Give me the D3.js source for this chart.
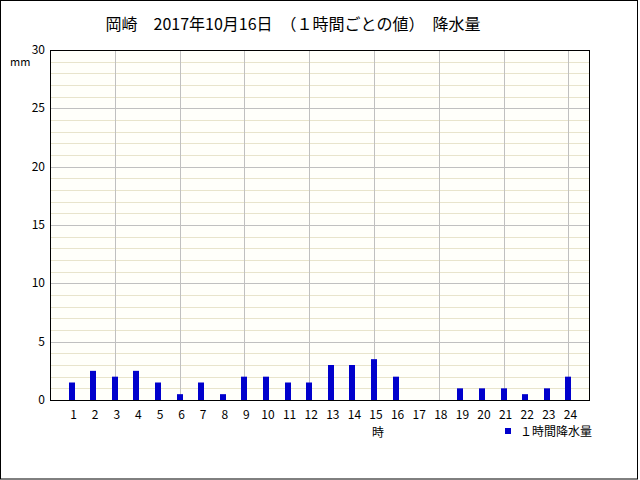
<!DOCTYPE html>
<html>
<head>
<meta charset="utf-8">
<script src="https://cdn.jsdelivr.net/npm/d3@7"></script>
<style>
body { margin: 0; background: #fff; }
svg text { font-family: "Noto Sans CJK JP", "DejaVu Sans", sans-serif; }
</style>
</head>
<body>
<svg id="chart" width="640" height="480"></svg>
<script>
var hours = [1, 2, 3, 4, 5, 6, 7, 8, 9, 10, 11, 12, 13, 14, 15, 16, 17, 18, 19, 20, 21, 22, 23, 24];
var rain = [1.5, 2.5, 2.0, 2.5, 1.5, 0.5, 1.5, 0.5, 2.0, 2.0, 1.5, 1.5, 3.0, 3.0, 3.5, 2.0, 0, 0, 1.0, 1.0, 1.0, 0.5, 1.0, 2.0];
var yTicks = [0, 5, 10, 15, 20, 25, 30];
var minorTicks = d3.range(0, 31, 1);
var vGrid = [3, 6, 9, 12, 15, 18, 21, 24];
var titleText = '岡崎　2017年10月16日　（１時間ごとの値）　降水量';
var legendText = '１時間降水量';

var svg = d3.select('#chart');
var pLeft = 50, pRight = 590, pTop = 50, pBottom = 400;

var x = d3.scaleLinear().domain([0, 25]).range([pLeft, pRight]);
var y = d3.scaleLinear().domain([0, 30]).range([pBottom, pTop]);

// outer frame
svg.append('rect')
	.attr('x', 0.5).attr('y', 0.5).attr('width', 637).attr('height', 478.5)
	.attr('fill', '#fff').attr('stroke', '#000');

// plot background
svg.append('rect')
	.attr('x', pLeft).attr('y', pTop).attr('width', pRight - pLeft).attr('height', pBottom - pTop)
	.attr('fill', '#fffffa');

// minor grid
svg.append('g').selectAll('line')
	.data(minorTicks.filter(function (d) { return d % 5 !== 0; }))
	.enter().append('line')
	.attr('x1', pLeft).attr('x2', pRight)
	.attr('y1', function (d) { return Math.round(y(d)) + 0.5; })
	.attr('y2', function (d) { return Math.round(y(d)) + 0.5; })
	.attr('stroke', '#e8e4cc');

// major grid
svg.append('g').selectAll('line')
	.data(yTicks.filter(function (d) { return d > 0 && d < 30; }))
	.enter().append('line')
	.attr('x1', pLeft).attr('x2', pRight)
	.attr('y1', function (d) { return Math.round(y(d)) + 0.5; })
	.attr('y2', function (d) { return Math.round(y(d)) + 0.5; })
	.attr('stroke', '#c0c0c0');

svg.append('g').selectAll('line')
	.data(vGrid)
	.enter().append('line')
	.attr('y1', pTop).attr('y2', pBottom)
	.attr('x1', function (d) { return Math.round(x(d)) + 0.5; })
	.attr('x2', function (d) { return Math.round(x(d)) + 0.5; })
	.attr('stroke', '#c0c0c0');

// bars
svg.append('g').selectAll('rect')
	.data(hours)
	.enter().append('rect')
	.attr('x', function (d) { return Math.round(x(d)) - 3; })
	.attr('width', 6)
	.attr('y', function (d, i) { return y(rain[i]); })
	.attr('height', function (d, i) { return pBottom - y(rain[i]); })
	.attr('fill', '#0000cc');

// plot border
svg.append('rect')
	.attr('x', pLeft + 0.5).attr('y', pTop + 0.5).attr('width', pRight - pLeft - 1).attr('height', pBottom - pTop)
	.attr('fill', 'none').attr('stroke', '#000');

// y labels
svg.append('g').selectAll('text')
	.data(yTicks)
	.enter().append('text')
	.attr('x', 45)
	.attr('y', function (d) { return y(d) + 4; })
	.attr('text-anchor', 'end')
	.attr('font-size', 12)
	.text(function (d) { return d; });

svg.append('text').attr('x', 10).attr('y', 66).attr('font-size', 11).text('mm');

// x labels
svg.append('g').selectAll('text')
	.data(hours)
	.enter().append('text')
	.attr('x', function (d) { return x(d) + 2; })
	.attr('y', 419)
	.attr('text-anchor', 'middle')
	.attr('font-size', 12)
	.text(function (d) { return d; });

svg.append('text').attr('x', 378).attr('y', 437).attr('text-anchor', 'middle')
	.attr('font-size', 12).text('時');

// legend
svg.append('rect').attr('x', 505).attr('y', 428).attr('width', 6).attr('height', 6).attr('fill', '#0000cc');
svg.append('text').attr('x', 520).attr('y', 436).attr('font-size', 12).text(legendText);

// title
svg.append('text').attr('x', 293).attr('y', 30).attr('text-anchor', 'middle')
	.attr('font-size', 16).text(titleText);
</script>
</body>
</html>
